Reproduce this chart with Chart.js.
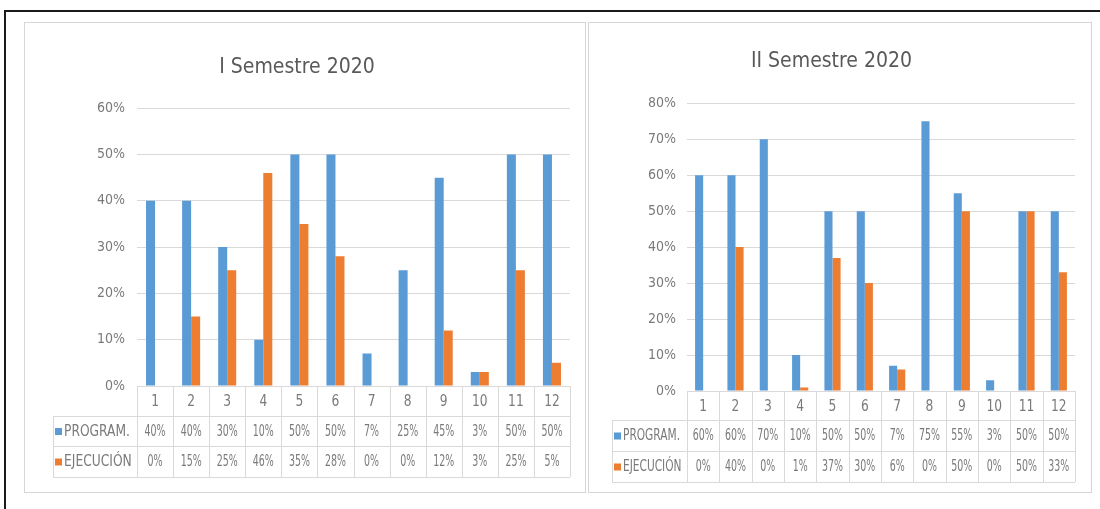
<!DOCTYPE html>
<html>
<head>
<meta charset="utf-8">
<script src="https://cdn.jsdelivr.net/npm/chart.js@4.4.1/dist/chart.umd.min.js"></script>
<style>
  body { margin: 0; background: #fff; width: 1100px; height: 509px; overflow: hidden; position: relative; }
  #frame { position: absolute; left: 4px; top: 10px; width: 1100px; height: 510px;
           border-top: 2px solid #1a1a1a; border-left: 2px solid #1a1a1a; }
  .panel { position: absolute; top: 22px; height: 471px; outline: 1px solid #d6d6d6; outline-offset: -1px; background: #fff; }
  #p1 { left: 24px; width: 562px; }
  #p2 { left: 588px; width: 504px; }
  canvas { display: block; }
</style>
</head>
<body>
<div id="frame"></div>
<div class="panel" id="p1"><canvas id="c1" width="562" height="471"></canvas></div>
<div class="panel" id="p2"><canvas id="c2" width="504" height="471"></canvas></div>
<script>
// ==================== DATA ====================
const periods = ['1', '2', '3', '4', '5', '6', '7', '8', '9', '10', '11', '12'];
const seriesNames = ['PROGRAM.', 'EJECUCIÓN'];

// I Semestre 2020
const program1 = [40, 40, 30, 10, 50, 50, 7, 25, 45, 3, 50, 50];
const ejecucion1 = [0, 15, 25, 46, 35, 28, 0, 0, 12, 3, 25, 5];
const yMax1 = 60;

// II Semestre 2020
const program2 = [60, 60, 70, 10, 50, 50, 7, 75, 55, 3, 50, 50];
const ejecucion2 = [0, 40, 0, 1, 37, 30, 6, 0, 50, 0, 50, 33];
const yMax2 = 80;

const BLUE = '#5b9bd5';
const ORANGE = '#ed7d31';
const FONT = "'Liberation Sans Narrow', 'DejaVu Sans Condensed', sans-serif";
const TEXT = '#7a7a7a';
const LINE = '#d9d9d9';

Chart.defaults.font.family = FONT;
Chart.defaults.color = TEXT;

// text squeezed sideways, like the narrow Calibri of the original
function narrowText(ctx, str, x, y, sx) {
  ctx.save();
  ctx.translate(x, y);
  ctx.scale(sx, 1);
  ctx.fillText(str, 0, 0);
  ctx.restore();
}

// Excel style data table under the plot, aligned to the x scale
const dataTable = {
  id: 'dataTable',
  afterDraw(chart, args, opts) {
    const { ctx, chartArea: a, scales: { x } } = chart;
    const n = chart.data.labels.length;
    const colW = (a.right - a.left) / n;
    const top = a.bottom;
    const r1 = top + opts.rows[0];
    const r2 = r1 + opts.rows[1];
    const r3 = r2 + opts.rows[2];
    const left = opts.legendLeft;

    ctx.save();
    ctx.strokeStyle = LINE;
    ctx.lineWidth = 1;
    ctx.beginPath();
    for (let i = 0; i <= n; i++) {
      const px = Math.round(a.left + i * colW) + 0.5;
      ctx.moveTo(px, top);
      ctx.lineTo(px, r3);
    }
    [r1, r2, r3].forEach(y => {
      ctx.moveTo(left, Math.round(y) + 0.5);
      ctx.lineTo(a.right, Math.round(y) + 0.5);
    });
    ctx.moveTo(left + 0.5, r1);
    ctx.lineTo(left + 0.5, r3);
    ctx.stroke();

    ctx.textAlign = 'center';
    ctx.textBaseline = 'middle';
    ctx.fillStyle = TEXT;
    ctx.font = `16px ${FONT}`;
    chart.data.labels.forEach((l, i) => narrowText(ctx, l, x.getPixelForValue(i), (top + r1) / 2 + 1, 0.85));

    const legendW = a.left - left - 18;
    chart.data.datasets.forEach((ds, d) => {
      const yMid = d === 0 ? (r1 + r2) / 2 : (r2 + r3) / 2;
      ctx.font = `15px ${FONT}`;
      ctx.textAlign = 'center';
      ctx.fillStyle = TEXT;
      ds.data.forEach((v, i) => narrowText(ctx, v + '%', x.getPixelForValue(i), yMid + 1, 0.7));
      ctx.fillStyle = ds.backgroundColor;
      ctx.fillRect(left + 2, yMid - 3, 7, 7);
      ctx.fillStyle = TEXT;
      ctx.textAlign = 'left';
      ctx.font = `15px ${FONT}`;
      const w = ctx.measureText(seriesNames[0]).width;
      narrowText(ctx, ds.label, left + 11, yMid + 1, Math.min(1, legendW / w));
    });
    ctx.restore();
  }
};

function makeChart(id, title, prog, ejec, yMax, o) {
  return new Chart(document.getElementById(id), {
    type: 'bar',
    data: {
      labels: periods,
      datasets: [
        { label: seriesNames[0], data: prog, backgroundColor: BLUE },
        { label: seriesNames[1], data: ejec, backgroundColor: ORANGE }
      ]
    },
    options: {
      responsive: false,
      animation: false,
      categoryPercentage: 0.5,
      barPercentage: 1,
      layout: { padding: { left: 0, top: 0, right: o.padRight, bottom: o.padBottom } },
      plugins: {
        legend: { display: false },
        tooltip: { enabled: false },
        title: {
          display: true,
          text: title,
          color: '#595959',
          font: { size: 21, weight: 'normal' },
          padding: { top: o.titleTop, bottom: o.titleBottom }
        },
        dataTable: { rows: o.rows, legendLeft: o.legendLeft }
      },
      scales: {
        x: { display: false },
        y: {
          min: 0,
          max: yMax,
          afterFit: s => { s.width = o.axisWidth; },
          border: { display: false },
          grid: { color: LINE, drawTicks: false },
          ticks: { stepSize: 10, padding: o.tickPad, font: { size: 14 }, color: TEXT, callback: v => v + '%' }
        }
      }
    },
    plugins: [dataTable]
  });
}

makeChart('c1', 'I Semestre 2020', program1, ejecucion1, yMax1,
  { padRight: 16, padBottom: 107, titleTop: 33, titleBottom: 28, axisWidth: 113, tickPad: 12, rows: [30, 30, 31], legendLeft: 29 });
makeChart('c2', 'II Semestre 2020', program2, ejecucion2, yMax2,
  { padRight: 17, padBottom: 102, titleTop: 27, titleBottom: 29, axisWidth: 99, tickPad: 11, rows: [29, 31, 31], legendLeft: 24 });
</script>
</body>
</html>
